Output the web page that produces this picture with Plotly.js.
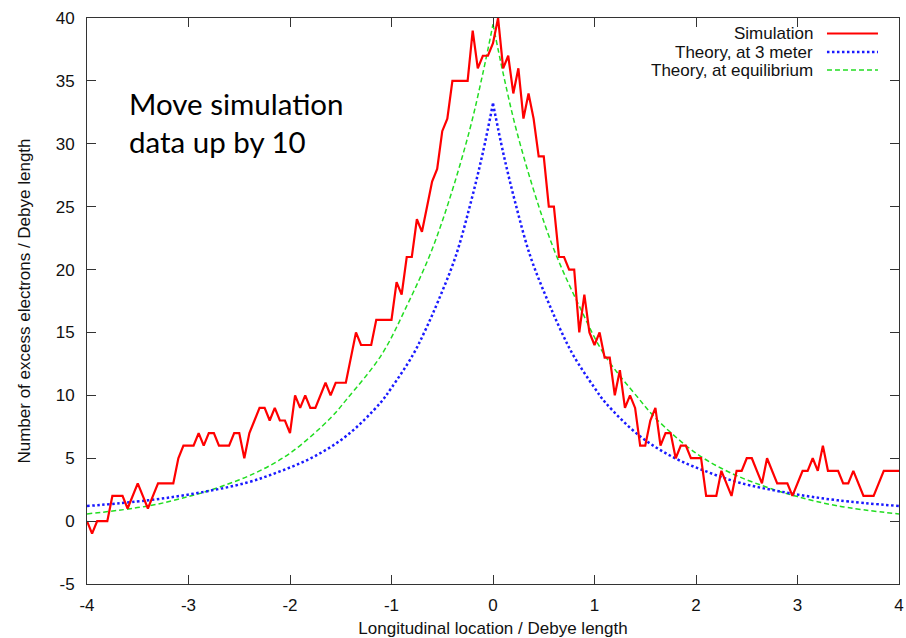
<!DOCTYPE html>
<html>
<head>
<meta charset="utf-8">
<script src="https://cdn.plot.ly/plotly-3.0.1.min.js"></script>
<style>html,body{margin:0;padding:0;background:#fff;}#chart{width:906px;height:638px;}</style>
</head>
<body>
<div id="chart"></div>
<script>
// Simulation data (x step 0.05 Debye length)
const simX = [
-4.00,-3.95,-3.90,-3.85,-3.80,-3.75,-3.70,-3.65,-3.60,-3.55,
-3.50,-3.45,-3.40,-3.35,-3.30,-3.25,-3.20,-3.15,-3.10,-3.05,
-3.00,-2.95,-2.90,-2.85,-2.80,-2.75,-2.70,-2.65,-2.60,-2.55,
-2.50,-2.45,-2.40,-2.35,-2.30,-2.25,-2.20,-2.15,-2.10,-2.05,
-2.00,-1.95,-1.90,-1.85,-1.80,-1.75,-1.70,-1.65,-1.60,-1.55,
-1.50,-1.45,-1.40,-1.35,-1.30,-1.25,-1.20,-1.15,-1.10,-1.05,
-1.00,-0.95,-0.90,-0.85,-0.80,-0.75,-0.70,-0.65,-0.60,-0.55,
-0.50,-0.45,-0.40,-0.35,-0.30,-0.25,-0.20,-0.15,-0.10,-0.05,
0.00,0.05,0.10,0.15,0.20,0.25,0.30,0.35,0.40,0.45,
0.50,0.55,0.60,0.65,0.70,0.75,0.80,0.85,0.90,0.95,
1.00,1.05,1.10,1.15,1.20,1.25,1.30,1.35,1.40,1.45,
1.50,1.55,1.60,1.65,1.70,1.75,1.80,1.85,1.90,1.95,
2.00,2.05,2.10,2.15,2.20,2.25,2.30,2.35,2.40,2.45,
2.50,2.55,2.60,2.65,2.70,2.75,2.80,2.85,2.90,2.95,
3.00,3.05,3.10,3.15,3.20,3.25,3.30,3.35,3.40,3.45,
3.50,3.55,3.60,3.65,3.70,3.75,3.80,3.85,3.90,3.95,
4.00];
const simY = [
0,-1,0,0,0,2,2,2,1,2,
3,2,1,2,3,3,3,3,5,6,
6,6,7,6,7,7,6,6,6,7,
7,5,7,8,9,9,8,9,8,8,
7,10,9,10,9,9,10,11,10,11,
11,11,13,15,14,14,14,16,16,16,
16,19,18,21,21,24,23,25,27,28,
31,32,35,35,35,35,39,36,37,37,
38,40,36,37,34,36,32,34,32,29,
29,25,25,21,21,20,20,15,18,15,
14,15,13,13,10,12,9,10,9,6,
6,8,9,6,7,7,5,6,6,5,
5,5,2,2,2,4,3,2,4,4,
5,5,4,3,5,4,3,3,3,2,
3,4,4,5,4,6,4,4,4,3,
3,4,3,2,2,2,3,4,4,4,
4];

// Theory, at 3 meter
const threeMeterX = [-4,-3.4,-2.9,-2.43,-2.1,-1.77,-1.44,-1.11,-1.0,-0.79,-0.66,-0.54,-0.37,-0.22,-0.1,0,
  0.1,0.22,0.37,0.54,0.66,0.79,1.0,1.11,1.44,1.77,2.1,2.43,2.9,3.4,4];
const threeMeterY = [1.2,1.65,2.25,3.05,3.95,5.1,6.8,9.4,10.6,13.2,15.3,17.5,21.0,25.3,29.3,33.2,
  29.3,25.3,21.0,17.5,15.3,13.2,10.6,9.4,6.8,5.1,3.95,3.05,2.25,1.65,1.2];

// Theory, at equilibrium
const equilX = [-4,-3.4,-3.0,-2.75,-2.35,-2.0,-1.6,-1.44,-1.1,-0.85,-0.62,-0.44,-0.23,-0.1,0,
  0.1,0.23,0.44,0.62,0.85,1.1,1.44,1.6,2.0,2.35,2.75,3.0,3.4,4];
const equilY = [0.57,1.2,1.95,2.55,3.8,5.4,8.2,9.7,13.2,17.1,21.2,25.3,31.1,35.6,39.5,
  35.6,31.1,25.3,21.2,17.1,13.2,9.7,8.2,5.4,3.8,2.55,1.95,1.2,0.57];

const xTicks = [-4,-3,-2,-1,0,1,2,3,4];
const yTicks = [-5,0,5,10,15,20,25,30,35,40];
const legendNames = ['Simulation','Theory, at 3 meter','Theory, at equilibrium'];

const RED = '#ff0000', BLUE = '#1a1aff', GREEN = '#22dd22';
const FONT = 'Liberation Sans, Arial, sans-serif';

// split a symmetric theory curve at its peak so each branch is smoothed separately
function branches(xs, ys) {
  const k = xs.indexOf(0);
  return [[xs.slice(0, k + 1), ys.slice(0, k + 1)], [xs.slice(k), ys.slice(k)]];
}

const traces = [];
branches(equilX, equilY).forEach((b, i) => traces.push({
  x: b[0], y: b[1], type: 'scatter', mode: 'lines', name: legendNames[2], showlegend: false,
  line: {color: GREEN, width: 1.5, dash: '5px,3px', shape: 'spline', smoothing: 1}
}));
branches(threeMeterX, threeMeterY).forEach((b, i) => traces.push({
  x: b[0], y: b[1], type: 'scatter', mode: 'lines', name: legendNames[1], showlegend: false,
  line: {color: BLUE, width: 2.5, dash: '2.5px,2.5px', shape: 'spline', smoothing: 1}
}));
traces.push({x: simX, y: simY, type: 'scatter', mode: 'lines', name: legendNames[0],
  line: {color: RED, width: 2.2}});

// Manual legend (text right-aligned, sample to the right), gnuplot style
const legX = 0.8966, legY = [0.9726, 0.9399, 0.9081];
const legStyles = [
  {color: RED, width: 2.2, dash: 'solid'},
  {color: BLUE, width: 2.5, dash: '2.5px,2.5px'},
  {color: GREEN, width: 1.5, dash: '5px,3px'}
];
const annotations = legendNames.map((t, i) => ({
  text: t, xref: 'paper', yref: 'paper', x: legX, y: legY[i],
  xanchor: 'right', yanchor: 'middle', showarrow: false,
  font: {family: FONT, size: 17, color: '#111'}
}));
annotations.push({
  text: 'Move simulation<br>data up by 10', xref: 'paper', yref: 'paper',
  x: 0.049, y: 0.883, xanchor: 'left', yanchor: 'top', align: 'left', showarrow: false,
  font: {family: 'Lato, Carlito, sans-serif', size: 29.5, color: '#000'}
});
const shapes = legStyles.map((s, i) => ({
  type: 'line', xref: 'paper', yref: 'paper', x0: 0.9113, x1: 0.9741, y0: legY[i], y1: legY[i],
  line: s
}));

const axisCommon = {
  showline: true, linecolor: '#333', linewidth: 1, mirror: 'ticks',
  ticks: 'inside', ticklen: 9, tickcolor: '#333', tickwidth: 1,
  showgrid: false, zeroline: false,
  tickfont: {family: FONT, size: 17, color: '#111'}
};

const layout = {
  width: 906, height: 638,
  margin: {l: 87, r: 7, t: 18, b: 54},
  paper_bgcolor: '#fff', plot_bgcolor: '#fff',
  showlegend: false,
  xaxis: Object.assign({}, axisCommon, {
    range: [-4, 4], tickvals: xTicks, ticktext: xTicks.map(String),
    ticklabelstandoff: 6,
    title: {text: 'Longitudinal location / Debye length', font: {family: FONT, size: 17, color: '#111'}, standoff: 8}
  }),
  yaxis: Object.assign({}, axisCommon, {
    range: [-5, 40], tickvals: yTicks, ticktext: yTicks.map(String),
    ticklabelstandoff: 8,
    title: {text: 'Number of excess electrons / Debye length', font: {family: FONT, size: 17, color: '#111'}, standoff: 20}
  }),
  annotations: annotations,
  shapes: shapes
};

Plotly.newPlot('chart', traces, layout, {staticPlot: true, displayModeBar: false});
</script>
</body>
</html>
